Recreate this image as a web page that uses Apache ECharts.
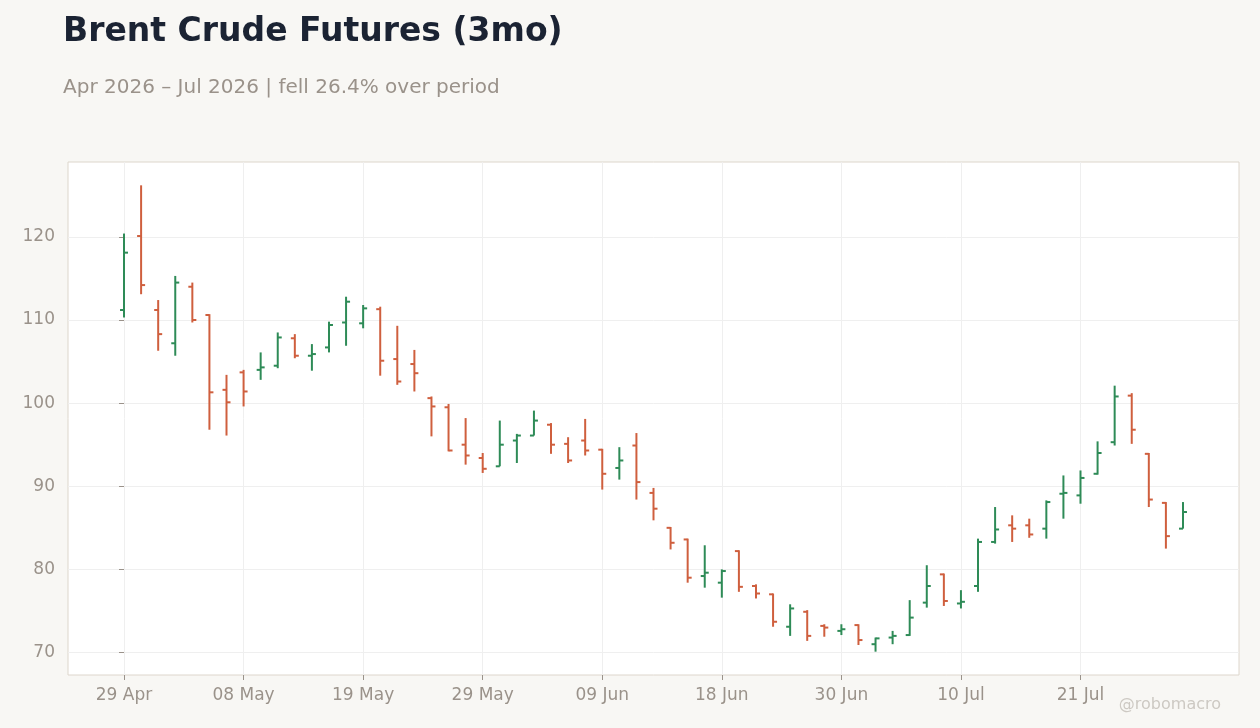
<!DOCTYPE html>
<html>
<head>
<meta charset="utf-8">
<title>Brent Crude Futures (3mo)</title>
<script src="https://cdn.jsdelivr.net/npm/echarts@6/dist/echarts.min.js"></script>
<style>
  html, body { margin: 0; padding: 0; background: #f8f7f4; }
  #chart { width: 1260px; height: 728px; }
</style>
</head>
<body>
<div id="chart"></div>
<script>
// trading days, Apr-Jul 2026
var dates = [
  '29 Apr', '30 Apr', '01 May', '04 May', '05 May', '06 May', '07 May',
  '08 May', '11 May', '12 May', '13 May', '14 May', '15 May', '18 May',
  '19 May', '20 May', '21 May', '22 May', '26 May', '27 May', '28 May',
  '29 May', '01 Jun', '02 Jun', '03 Jun', '04 Jun', '05 Jun', '08 Jun',
  '09 Jun', '10 Jun', '11 Jun', '12 Jun', '15 Jun', '16 Jun', '17 Jun',
  '18 Jun', '22 Jun', '23 Jun', '24 Jun', '25 Jun', '26 Jun', '29 Jun',
  '30 Jun', '01 Jul', '02 Jul', '06 Jul', '07 Jul', '08 Jul', '09 Jul',
  '10 Jul', '13 Jul', '14 Jul', '15 Jul', '16 Jul', '17 Jul', '20 Jul',
  '21 Jul', '22 Jul', '23 Jul', '24 Jul', '27 Jul', '28 Jul', '29 Jul'
];
var opens = [
  111.2, 120.1, 111.2, 107.2, 114.0, 110.6, 101.6, 103.7, 104.0, 104.5,
  107.8, 105.7, 106.7, 109.7, 109.6, 111.3, 105.3, 104.7, 100.6, 99.5,
  95.0, 93.4, 92.4, 95.5, 96.1, 97.4, 95.1, 95.5, 94.4, 92.2,
  94.9, 89.2, 85.0, 83.6, 79.2, 78.4, 82.2, 78.0, 77.0, 73.1,
  74.9, 73.2, 72.6, 73.3, 71.0, 71.8, 72.1, 76.0, 79.4, 75.9,
  78.0, 83.3, 85.3, 85.3, 84.9, 89.1, 88.9, 91.5, 95.3, 100.9,
  93.9, 88.0, 84.9
];
var highs = [
  120.4, 126.2, 112.4, 115.3, 114.5, 110.7, 103.4, 104.0, 106.1, 108.5,
  108.3, 107.1, 109.8, 112.8, 111.8, 111.6, 109.3, 106.4, 100.8, 99.9,
  98.2, 94.0, 97.9, 96.3, 99.1, 97.6, 95.9, 98.1, 94.5, 94.7,
  96.4, 89.8, 85.1, 83.7, 82.9, 80.0, 82.3, 78.2, 77.1, 75.8,
  75.1, 73.4, 73.4, 73.4, 71.8, 72.6, 76.3, 80.5, 79.5, 77.5,
  83.7, 87.5, 86.5, 86.1, 88.3, 91.3, 91.9, 95.4, 102.1, 101.2,
  94.0, 88.1, 88.1
];
var lows = [
  110.3, 113.1, 106.3, 105.7, 109.7, 96.8, 96.1, 99.6, 102.8, 104.2,
  105.4, 103.9, 106.1, 106.9, 109.0, 103.3, 102.2, 101.4, 96.0, 94.2,
  92.6, 91.6, 92.4, 92.8, 96.1, 93.9, 92.8, 93.7, 89.6, 90.8,
  88.4, 85.9, 82.4, 78.4, 77.8, 76.6, 77.3, 76.5, 73.1, 72.0,
  71.4, 71.9, 72.1, 70.9, 70.1, 71.0, 72.0, 75.4, 75.6, 75.3,
  77.3, 83.1, 83.3, 83.8, 83.7, 86.1, 87.9, 91.4, 94.9, 95.1,
  87.5, 82.5, 84.9
];
var closes = [
  118.1, 114.2, 108.3, 114.5, 110.0, 101.3, 100.1, 101.4, 104.3, 107.9,
  105.7, 105.9, 109.4, 112.2, 111.4, 105.1, 102.6, 103.6, 99.6, 94.3,
  93.7, 92.1, 95.0, 96.1, 97.9, 95.0, 93.1, 94.3, 91.5, 93.1,
  90.5, 87.3, 83.2, 79.0, 79.6, 79.8, 77.9, 77.1, 73.7, 75.3,
  72.0, 73.0, 72.8, 71.5, 71.7, 72.0, 74.2, 78.0, 76.2, 76.1,
  83.3, 84.8, 84.9, 84.2, 88.1, 89.2, 91.0, 94.0, 100.8, 96.8,
  88.4, 84.0, 86.9
];
var yTicks = [70, 80, 90, 100, 110, 120];
var labelEvery = 7;

var upColor = '#2e8b57';
var downColor = '#cf5f3e';
var labelColor = '#9a928a';

var rows = dates.map(function (d, i) {
  return [i, opens[i], highs[i], lows[i], closes[i]];
});
var xTicks = [];
for (var i = 0; i < dates.length; i += labelEvery) xTicks.push(i);

// 5% padding around the price range
var lo = Math.min.apply(null, lows);
var hi = Math.max.apply(null, highs);
var pad = (hi - lo) * 0.05;
// same sort of padding on the x side
var xPad = 3.28;

function renderBar(params, api) {
  var i = api.value(0);
  var o = api.coord([i, api.value(1)]);
  var h = api.coord([i, api.value(2)]);
  var l = api.coord([i, api.value(3)]);
  var c = api.coord([i, api.value(4)]);
  var color = api.value(4) >= api.value(1) ? upColor : downColor;
  var style = {stroke: color, lineWidth: 2};
  return {
    type: 'group',
    children: [
      {type: 'line', shape: {x1: h[0], y1: h[1], x2: l[0], y2: l[1]}, style: style},
      {type: 'line', shape: {x1: o[0] - 4, y1: o[1], x2: o[0], y2: o[1]}, style: style},
      {type: 'line', shape: {x1: c[0], y1: c[1], x2: c[0] + 4, y2: c[1]}, style: style}
    ]
  };
}

var myChart = echarts.init(document.getElementById('chart'));
var option = {
  animation: false,
  backgroundColor: '#f8f7f4',
  textStyle: {fontFamily: 'DejaVu Sans'},
  title: [{
    text: 'Brent Crude Futures (3mo)',
    left: 58,
    top: 11,
    textStyle: {fontFamily: 'DejaVu Sans', fontWeight: 'bold', fontSize: 33, color: '#1b2333'}
  }, {
    text: 'Apr 2026 – Jul 2026 | fell 26.4% over period',
    left: 58,
    top: 73,
    textStyle: {fontFamily: 'DejaVu Sans', fontWeight: 'normal', fontSize: 20, color: '#9a928a'}
  }],
  graphic: [{
    type: 'text',
    right: 39,
    bottom: 15,
    style: {text: '@robomacro', fill: '#cdc9c3', font: '16px "DejaVu Sans"'}
  }],
  grid: {
    left: 68,
    right: 21,
    top: 162,
    bottom: 53,
    show: true,
    backgroundColor: '#ffffff',
    borderColor: '#ddd6cc',
    borderWidth: 1
  },
  xAxis: {
    type: 'value',
    min: -xPad,
    max: dates.length - 1 + xPad,
    axisLine: {show: false},
    axisTick: {show: true, length: 5, customValues: xTicks, lineStyle: {color: '#9a928a'}},
    axisLabel: {
      customValues: xTicks,
      margin: 12,
      fontSize: 17,
      color: labelColor,
      formatter: function (v) { return dates[Math.round(v)]; }
    },
    splitLine: {show: true, lineStyle: {color: '#efefef', width: 1}}
  },
  yAxis: {
    type: 'value',
    min: lo - pad,
    max: hi + pad,
    axisLine: {show: false},
    axisTick: {show: true, length: 5, customValues: yTicks, lineStyle: {color: '#9a928a'}},
    axisLabel: {customValues: yTicks, margin: 13, fontSize: 17, color: labelColor},
    splitLine: {show: true, lineStyle: {color: '#efefef', width: 1}}
  },
  series: [{
    type: 'custom',
    renderItem: renderBar,
    data: rows,
    encode: {x: 0, y: [1, 2, 3, 4]},
    silent: true
  }]
};
myChart.setOption(option);
</script>
</body>
</html>
